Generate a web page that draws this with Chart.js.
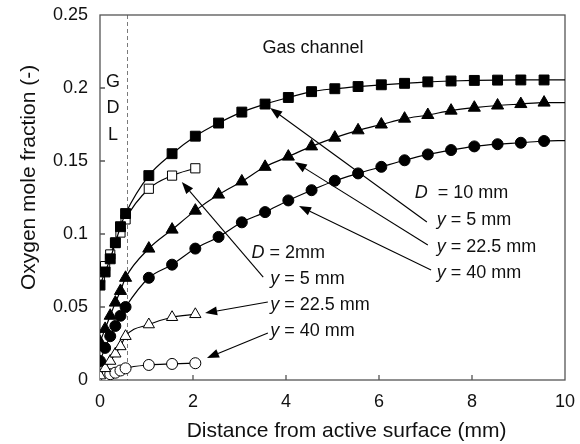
<!DOCTYPE html>
<html>
<head>
<meta charset="utf-8">
<script src="https://cdn.jsdelivr.net/npm/chart.js@4/dist/chart.umd.min.js"></script>
<style>
  html, body { margin: 0; padding: 0; background: #fff; }
  #wrap { width: 580px; height: 444px; }
</style>
</head>
<body>
<div id="wrap"><canvas id="c" width="580" height="444"></canvas></div>
<script>
// Positions (mm from the active surface) of the computed points
const xGdl = [0, 0.11, 0.22, 0.33, 0.44, 0.55];
// Gas channel points; the D = 10 mm lines run on to the channel wall at 10 mm
const xChannel10 = [1.05, 1.55, 2.05, 2.55, 3.05, 3.55, 4.05, 4.55, 5.05, 5.55,
                    6.05, 6.55, 7.05, 7.55, 8.05, 8.55, 9.05, 9.55, 10];
const xChannel2 = [1.05, 1.55, 2.05];

// Oxygen mole fraction, D = 10 mm channel
const d10y5   = [0.065, 0.074, 0.083, 0.094, 0.105, 0.114,
                 0.140, 0.155, 0.167, 0.176, 0.1835, 0.189, 0.1935, 0.1975, 0.1995, 0.201,
                 0.2022, 0.2032, 0.2042, 0.2048, 0.2052, 0.2054, 0.2055, 0.2055, 0.2055];
const d10y225 = [0.026, 0.035, 0.044, 0.053, 0.061, 0.070,
                 0.090, 0.103, 0.116, 0.127, 0.136, 0.146, 0.153, 0.160, 0.166, 0.171,
                 0.175, 0.179, 0.1815, 0.1845, 0.1865, 0.188, 0.189, 0.190, 0.190];
const d10y40  = [0.013, 0.022, 0.030, 0.037, 0.044, 0.050,
                 0.070, 0.079, 0.090, 0.098, 0.108, 0.115, 0.123, 0.130, 0.1365, 0.1415,
                 0.146, 0.1505, 0.1545, 0.1575, 0.160, 0.1615, 0.1625, 0.1637, 0.164];

// Oxygen mole fraction, D = 2 mm channel
const d2y5   = [0.070, 0.078, 0.086, 0.094, 0.101, 0.110, 0.131, 0.140, 0.145];
const d2y225 = [0.003, 0.008, 0.013, 0.018, 0.023, 0.030, 0.038, 0.043, 0.045];
const d2y40  = [0.001, 0.003, 0.004, 0.005, 0.0065, 0.008, 0.0103, 0.011, 0.0115];

const yTicks = [0, 0.05, 0.1, 0.15, 0.2, 0.25];
const xTicks = [0, 2, 4, 6, 8, 10];
const gdlEdge = 0.57;

const FONT = '"Liberation Sans", Arial, sans-serif';
const INK = '#111';

function pts(xs, ys) {
  return ys.map((v, i) => ({ x: xs[i], y: v }));
}

function series(label, xs, ys, shape, filled, radius, order, lastHidden) {
  const r = ys.map((_, i) => (lastHidden && i === ys.length - 1) ? 0 : radius);
  return {
    label,
    data: pts(xs, ys),
    pointStyle: shape,
    pointRadius: r,
    pointHoverRadius: r,
    pointBackgroundColor: filled ? '#000' : '#fff',
    pointBorderColor: '#000',
    pointBorderWidth: 1,
    borderColor: '#000',
    borderWidth: 1.2,
    backgroundColor: filled ? '#000' : '#fff',
    showLine: true,
    fill: false,
    tension: 0.35,
    cubicInterpolationMode: 'monotone',
    order
  };
}

const x10 = xGdl.concat(xChannel10);
const x2 = xGdl.concat(xChannel2);

const datasets = [
  series('D = 10 mm, y = 5 mm',    x10, d10y5,   'rect',     true, 7,   1, true),
  series('D = 10 mm, y = 22.5 mm', x10, d10y225, 'triangle', true, 7,   1, true),
  series('D = 10 mm, y = 40 mm',   x10, d10y40,  'circle',   true, 5.5, 1, true),
  series('D = 2 mm, y = 5 mm',     x2,  d2y5,    'rect',     false, 6.5, 2, false),
  series('D = 2 mm, y = 22.5 mm',  x2,  d2y225,  'triangle', false, 6.5, 2, false),
  series('D = 2 mm, y = 40 mm',    x2,  d2y40,   'circle',   false, 5.5, 2, false)
];

// Text labels (data coordinates: left edge / centre line)
const notes = [
  { x: 4.58, y: 0.2274, align: 'center', parts: [['Gas channel', false]] },
  { x: 0.28, y: 0.2043, align: 'center', parts: [['G', false]] },
  { x: 0.28, y: 0.1863, align: 'center', parts: [['D', false]] },
  { x: 0.28, y: 0.1678, align: 'center', parts: [['L', false]] },
  { x: 6.77, y: 0.1279, align: 'left', parts: [['D', true], ['  = 10 mm', false]] },
  { x: 7.24, y: 0.1096, align: 'left', parts: [['y', true], [' = 5 mm', false]] },
  { x: 7.24, y: 0.0913, align: 'left', parts: [['y', true], [' = 22.5 mm', false]] },
  { x: 7.24, y: 0.0731, align: 'left', parts: [['y', true], [' = 40 mm', false]] },
  { x: 3.26, y: 0.0868, align: 'left', parts: [['D', true], [' = 2mm', false]] },
  { x: 3.66, y: 0.0690, align: 'left', parts: [['y', true], [' = 5 mm', false]] },
  { x: 3.66, y: 0.0514, align: 'left', parts: [['y', true], [' = 22.5 mm', false]] },
  { x: 3.66, y: 0.0338, align: 'left', parts: [['y', true], [' = 40 mm', false]] }
];

// Leader arrows: tail at the label, head at the curve
const arrows = [
  { from: [7.03, 0.1082], to: [3.66, 0.1863] },
  { from: [7.05, 0.0925], to: [4.19, 0.1493] },
  { from: [7.12, 0.0753], to: [4.28, 0.1192] },
  { from: [3.51, 0.0705], to: [1.76, 0.1356] },
  { from: [3.61, 0.0534], to: [2.26, 0.0459] },
  { from: [3.61, 0.0322], to: [2.30, 0.0151] }
];

const frame = {
  id: 'frame',
  beforeDatasetsDraw(chart) {
    const { ctx, chartArea: a, scales: { x, y } } = chart;
    ctx.save();
    // GDL / channel boundary
    ctx.strokeStyle = '#7a7a7a';
    ctx.lineWidth = 1;
    ctx.setLineDash([4, 3]);
    const gx = Math.round(x.getPixelForValue(gdlEdge)) + 0.5;
    ctx.beginPath();
    ctx.moveTo(gx, a.top);
    ctx.lineTo(gx, a.bottom);
    ctx.stroke();
    ctx.setLineDash([]);
    // plot frame
    ctx.strokeStyle = '#555';
    ctx.lineWidth = 1.3;
    ctx.strokeRect(a.left, a.top, a.right - a.left, a.bottom - a.top);
    // inward tick marks
    ctx.beginPath();
    xTicks.forEach(v => {
      if (v === xTicks[0] || v === xTicks[xTicks.length - 1]) return;
      const px = x.getPixelForValue(v);
      ctx.moveTo(px, a.bottom);
      ctx.lineTo(px, a.bottom - 5);
    });
    yTicks.forEach(v => {
      if (v === yTicks[0] || v === yTicks[yTicks.length - 1]) return;
      const py = y.getPixelForValue(v);
      ctx.moveTo(a.left, py);
      ctx.lineTo(a.left + 5, py);
    });
    ctx.stroke();
    ctx.restore();
  },
  afterDatasetsDraw(chart) {
    const { ctx, chartArea: a, scales: { x, y } } = chart;
    ctx.save();
    ctx.fillStyle = INK;
    ctx.strokeStyle = '#000';
    ctx.textBaseline = 'middle';

    // arrows
    arrows.forEach(ar => {
      const x0 = x.getPixelForValue(ar.from[0]), y0 = y.getPixelForValue(ar.from[1]);
      const x1 = x.getPixelForValue(ar.to[0]), y1 = y.getPixelForValue(ar.to[1]);
      const ang = Math.atan2(y1 - y0, x1 - x0);
      const len = 12, half = 4.5;
      const bx = x1 - len * Math.cos(ang), by = y1 - len * Math.sin(ang);
      ctx.lineWidth = 1.1;
      ctx.beginPath();
      ctx.moveTo(x0, y0);
      ctx.lineTo(bx, by);
      ctx.stroke();
      ctx.beginPath();
      ctx.moveTo(x1, y1);
      ctx.lineTo(bx + half * Math.sin(ang), by - half * Math.cos(ang));
      ctx.lineTo(bx - half * Math.sin(ang), by + half * Math.cos(ang));
      ctx.closePath();
      ctx.fillStyle = '#000';
      ctx.fill();
    });

    // labels
    ctx.fillStyle = INK;
    notes.forEach(n => {
      const widths = n.parts.map(([t, it]) => {
        ctx.font = (it ? 'italic ' : '') + '18px ' + FONT;
        return ctx.measureText(t).width;
      });
      const total = widths.reduce((s, w) => s + w, 0);
      let px = x.getPixelForValue(n.x);
      if (n.align === 'center') px -= total / 2;
      const py = y.getPixelForValue(n.y);
      n.parts.forEach(([t, it], i) => {
        ctx.font = (it ? 'italic ' : '') + '18px ' + FONT;
        ctx.textAlign = 'left';
        ctx.fillText(t, px, py);
        px += widths[i];
      });
    });

    // axis titles
    ctx.font = '21px ' + FONT;
    ctx.textAlign = 'center';
    ctx.fillText('Distance from active surface (mm)', (a.left + a.right) / 2 + 14, chart.height - 13);
    ctx.translate(29, (a.top + a.bottom) / 2 - 20);
    ctx.rotate(-Math.PI / 2);
    ctx.fillText('Oxygen mole fraction (-)', 0, 0);
    ctx.restore();
  }
};

new Chart(document.getElementById('c'), {
  type: 'scatter',
  data: { datasets },
  options: {
    responsive: false,
    animation: false,
    events: [],
    layout: { padding: { top: 15, right: 15, left: 0, bottom: 0 } },
    plugins: { legend: { display: false }, tooltip: { enabled: false } },
    scales: {
      x: {
        type: 'linear',
        min: 0, max: 10,
        afterBuildTicks(s) { s.ticks = xTicks.map(v => ({ value: v })); },
        afterFit(s) { s.height = 64; s.paddingLeft = 0; s.paddingRight = 0; },
        grid: { display: false, drawTicks: false },
        border: { display: false },
        ticks: { color: INK, font: { family: FONT, size: 18 }, padding: 11,
                 callback: v => String(v) }
      },
      y: {
        type: 'linear',
        min: 0, max: 0.25,
        afterBuildTicks(s) { s.ticks = yTicks.map(v => ({ value: v })); },
        afterFit(s) { s.width = 100; s.paddingTop = 0; s.paddingBottom = 0; },
        grid: { display: false, drawTicks: false },
        border: { display: false },
        ticks: { color: INK, font: { family: FONT, size: 18 }, padding: 12,
                 callback: v => String(Number(v.toFixed(2))) }
      }
    }
  },
  plugins: [frame]
});
</script>
</body>
</html>
